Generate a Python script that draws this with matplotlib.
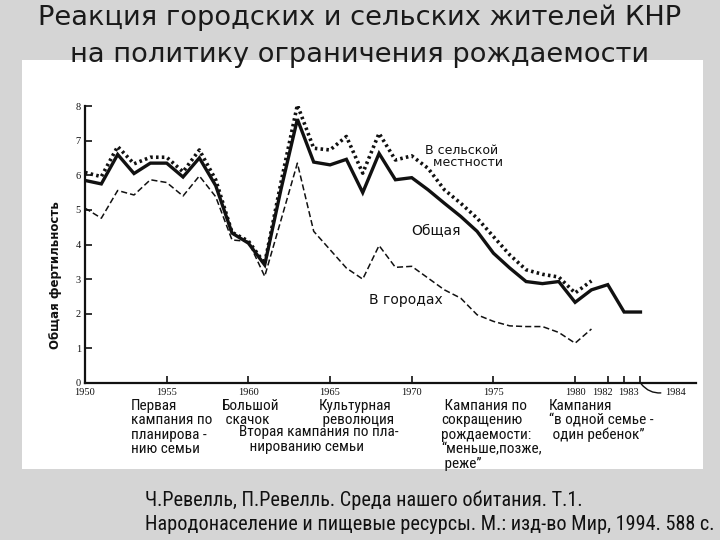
import matplotlib.pyplot as plt
from matplotlib import font_manager
from matplotlib.patches import Rectangle

# Fonts: look for a narrow sans for the scanned captions
fonts = font_manager.fontManager.ttflist
names = {f.name for f in fonts}
narrow = {"family": "Liberation Sans"}
for nm in ["Liberation Sans Narrow", "Roboto Condensed", "Open Sans Condensed",
           "Noto Sans Condensed", "DejaVu Sans Condensed"]:
    if nm in names:
        narrow = {"family": nm}
        break
else:
    for f in fonts:
        if f.stretch in ("condensed", "semi-condensed") and f.style == "normal" \
                and f.weight in (400, "normal", "regular"):
            narrow = {"family": f.name, "stretch": f.stretch}
            break

# Colors
slide_bg = "#d5d5d5"
ink = "#111111"

# Data
years_total = list(range(1950, 1985))
total = [5.85, 5.75, 6.6, 6.05, 6.35, 6.35, 5.95, 6.5, 5.7, 4.33, 4.04, 3.41,
         5.6, 7.62, 6.38, 6.3, 6.46, 5.5, 6.63, 5.87, 5.93, 5.58, 5.19, 4.81,
         4.38, 3.75, 3.32, 2.93, 2.87, 2.93, 2.33, 2.69, 2.84, 2.05, 2.05]

years_rural = list(range(1950, 1982))
rural = [6.08, 5.96, 6.83, 6.33, 6.52, 6.52, 6.1, 6.73, 5.87, 4.35, 4.1, 3.45,
         5.8, 8.03, 6.78, 6.73, 7.12, 6.06, 7.21, 6.44, 6.56, 6.2, 5.58, 5.19,
         4.76, 4.23, 3.7, 3.27, 3.14, 3.06, 2.6, 2.95]

years_urban = list(range(1950, 1982))
urban = [5.05, 4.76, 5.56, 5.43, 5.87, 5.79, 5.4, 5.98, 5.38, 4.13, 4.09, 3.08,
         4.71, 6.35, 4.38, 3.85, 3.32, 3.0, 3.97, 3.34, 3.37, 3.03, 2.69, 2.45,
         1.97, 1.78, 1.65, 1.63, 1.63, 1.46, 1.15, 1.56]

xticks = [1950, 1955, 1960, 1965, 1970, 1975, 1980, 1982, 1983, 1984]
xtick_labels = ["1950", "1955", "1960", "1965", "1970", "1975", "1980", "1982", "1983"]
xlabel_shift = [0, 0, 0, 0, 0, 0, 0, -0.3, 0.25]

fig = plt.figure(figsize=(7.2, 5.4), dpi=100, facecolor=slide_bg)
renderer = fig.canvas.get_renderer()


def fit_width(txt, target_px):
    w = txt.get_window_extent(renderer).width
    txt.set_fontsize(txt.get_fontsize() * target_px / w)


# Title
t1 = fig.text(0.5, 1 - 18 / 540, "Реакция городских и сельских жителей КНР",
              ha="center", va="center", fontsize=20, color="#1a1a1a")
t2 = fig.text(0.5, 1 - 55 / 540, "на политику ограничения рождаемости",
              ha="center", va="center", fontsize=20, color="#1a1a1a")
fit_width(t1, 641)
t2.set_fontsize(t1.get_fontsize())

# White picture box (covers bottom of title line 2)
fig.patches.append(Rectangle((22 / 720, 1 - 469 / 540), (703 - 22) / 720, (469 - 60) / 540,
                             transform=fig.transFigure, facecolor="white",
                             edgecolor="none", zorder=1))

ax = fig.add_axes([85 / 720, 1 - 383 / 540, (696 - 85) / 720, (383 - 106) / 540])
ax.set_facecolor("none")
ax.set_zorder(2)

ax.plot(years_total, total, color=ink, lw=2.4, solid_joinstyle="miter")
ax.plot(years_rural, rural, color=ink, lw=2.6, linestyle=(0, (0.7, 0.9)))
ax.plot(years_urban, urban, color=ink, lw=1.1, linestyle=(0, (4, 2)))

ax.set_xlim(1950, 1987.4)
ax.set_ylim(0, 8)
for side in ["top", "right"]:
    ax.spines[side].set_visible(False)
for side in ["left", "bottom"]:
    ax.spines[side].set_linewidth(1.6)
    ax.spines[side].set_color(ink)

ax.set_xticks(xticks)
ax.set_xticklabels([])
ax.set_yticks(range(0, 9))
ax.tick_params(direction="in", length=5, width=1.2, colors=ink, pad=3,
               labelsize=7.5)
for lab in ax.get_yticklabels():
    lab.set_family("Liberation Serif")

# x labels placed by hand so 1980/1982/1983 do not collide
for yr, lab, dx in zip(xticks, xtick_labels, xlabel_shift):
    ax.text(yr + dx, -0.27, lab, ha="center", va="center", fontsize=7.5,
            family="Liberation Serif", color=ink, clip_on=False)

ax.set_ylabel("Общая фертильность", fontsize=8.5, fontweight="bold", color=ink)
ax.yaxis.set_label_coords(-0.038, 0.39)

# 1984 label with leader
ax.annotate("1984", xy=(1984.05, -0.03), xytext=(1985.5, -0.27),
            fontsize=7.5, family="Liberation Serif", ha="left", va="center",
            color=ink, annotation_clip=False,
            arrowprops=dict(arrowstyle="-", color=ink, lw=1, relpos=(0, 0.5),
                            shrinkA=1, shrinkB=0,
                            connectionstyle="arc3,rad=-0.3"))

# Line labels
ax.text(1970.8, 6.55, "В сельской\n  местности", fontsize=9, color=ink,
        va="center", linespacing=0.9, family="DejaVu Sans")
ax.text(1970.0, 4.4, "Общая", fontsize=10, color=ink, va="center",
        family="DejaVu Sans")
ax.text(1967.4, 2.4, "В городах", fontsize=10, color=ink, va="center",
        family="DejaVu Sans")

# Campaign annotations under the axis
notes = [
    (1952.8, -0.45, "Первая\nкампания по\nпланирова -\nнию семьи"),
    (1958.4, -0.45, "Большой\n скачок"),
    (1959.4, -1.22, "Вторая кампания по пла-\n   нированию семьи"),
    (1964.3, -0.45, "Культурная\n революция"),
    (1971.8, -0.45, " Кампания по\nсокращению\nрождаемости:\n\u201cменьше,позже,\n реже\u201d"),
    (1978.4, -0.45, "Кампания\n\u201cв одной семье -\n один ребенок\u201d"),
]
note_texts = []
for x, y, s in notes:
    note_texts.append(ax.text(x, y, s, fontsize=9, color=ink, va="top", ha="left",
                              linespacing=1.05, clip_on=False, **narrow))
# scale the note font so the long line is as wide as in the scan
probe = ax.text(0, 0, "Вторая кампания по пла-", fontsize=9, **narrow)
w = probe.get_window_extent(renderer).width
probe.remove()
for t in note_texts:
    t.set_fontsize(9 * 160 / w)

# Source
c1 = fig.text(145 / 720, 1 - 500 / 540, "Ч.Ревелль, П.Ревелль. Среда нашего обитания. Т.1.",
              fontsize=13, color="#111111", va="center", **narrow)
c2 = fig.text(145 / 720, 1 - 525 / 540,
              "Народонаселение и пищевые ресурсы. М.: изд-во Мир, 1994. 588 с.",
              fontsize=13, color="#111111", va="center", **narrow)
fit_width(c2, 568)
c1.set_fontsize(c2.get_fontsize())

fig.savefig("out.png", dpi=100, facecolor=slide_bg)
